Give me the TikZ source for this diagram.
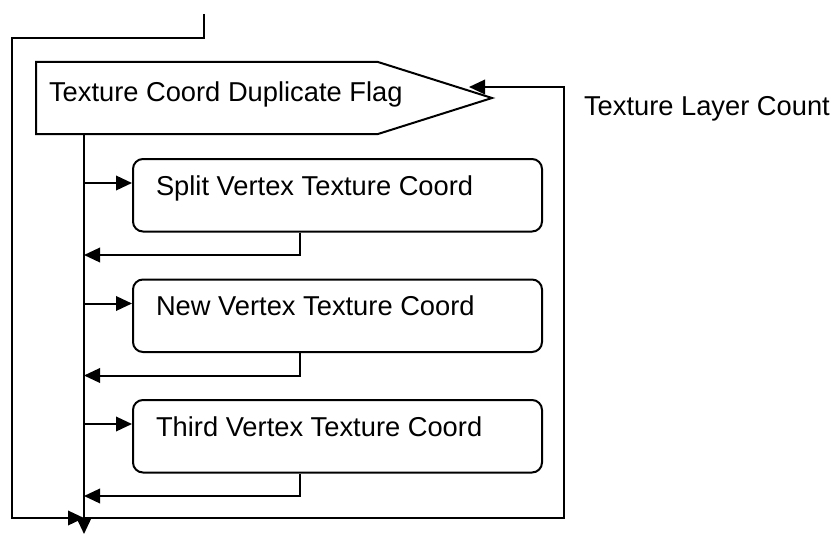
\documentclass[tikz,border=0pt]{standalone}
\usepackage{fontspec}
\setmainfont{Liberation Sans}
\usetikzlibrary{arrows.meta}
\begin{document}
\begin{tikzpicture}[x=1pt,y=-1pt, line width=2pt,
  conn/.style={-{Triangle[length=16pt,width=14.5pt]}},
  procbox/.style={draw, rounded corners=10pt, minimum width=409pt, minimum height=72.5pt, inner sep=0pt, anchor=north west},
  lbl/.style={font=\fontsize{27.3}{31}\selectfont, inner sep=0pt, anchor=base west}]
\useasboundingbox (0,0) rectangle (830,535);
% flag shape
\coordinate (fA) at (36,62);
\coordinate (fB) at (378,62);
\coordinate (fTip) at (492,98);
\coordinate (fC) at (378,134);
\coordinate (fD) at (36,134);
\draw (fA) -- (fB) -- (fTip) -- (fC) -- (fD) -- cycle;
\node[lbl] (flagtxt) at (48,102) {Texture Coord Duplicate Flag};
\node[lbl] (laycnt) at (583,115) {Texture Layer Count};
% boxes
\node[procbox] (b1) at (132,158) {};
\node[lbl] (t1) at (155,195) {Split Vertex Texture Coord};
\node[procbox] (b2) at (132,278.5) {};
\node[lbl] (t2) at (155,315.5) {New Vertex Texture Coord};
\node[procbox] (b3) at (132,399) {};
\node[lbl] (t3) at (155,436) {Third Vertex Texture Coord};
% coordinates
\coordinate (stop) at (84,134);
\coordinate (send) at (84,534);
\coordinate (j) at (84,518);
\coordinate (in) at (204,14);
\coordinate (lc) at (12,38);
\coordinate (rc) at (564,87);
\coordinate (ftarget) at (469,87);
\coordinate (e1) at (84,183);
\coordinate (e2) at (84,303.5);
\coordinate (e3) at (84,424);
\coordinate (r1) at (300,255);
\coordinate (r2) at (300,375.5);
\coordinate (r3) at (300,496);
% spine
\draw[conn] (stop) -- (send);
% entries
\draw[conn] (e1) -- (e1 -| b1.west);
\draw[conn] (e2) -- (e2 -| b2.west);
\draw[conn] (e3) -- (e3 -| b3.west);
% returns
\draw[conn] (r1 |- b1.south) -- (r1) -- (r1 -| stop);
\draw[conn] (r2 |- b2.south) -- (r2) -- (r2 -| stop);
\draw[conn] (r3 |- b3.south) -- (r3) -- (r3 -| stop);
% outer
\draw[conn] (in) |- (lc) |- (j);
\draw[conn] (j) -| (rc) -- (ftarget);
\end{tikzpicture}
\end{document}
